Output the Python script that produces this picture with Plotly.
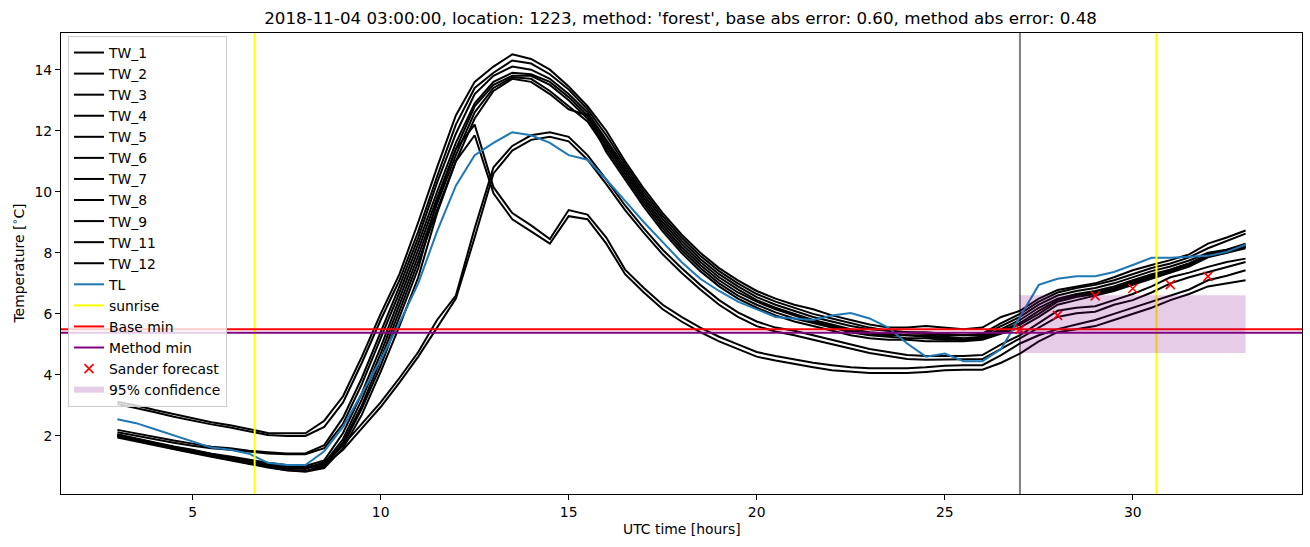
import plotly.graph_objects as go

# ---------------- data ----------------
HOURS = [3.0, 3.5, 4.0, 4.5, 5.0, 5.5, 6.0, 6.5, 7.0, 7.5,
         8.0, 8.5, 9.0, 9.5, 10.0, 10.5, 11.0, 11.5, 12.0, 12.5,
         13.0, 13.5, 14.0, 14.5, 15.0, 15.5, 16.0, 16.5, 17.0, 17.5,
         18.0, 18.5, 19.0, 19.5, 20.0, 20.5, 21.0, 21.5, 22.0, 22.5,
         23.0, 23.5, 24.0, 24.5, 25.0, 25.5, 26.0, 26.5, 27.0, 27.5,
         28.0, 28.5, 29.0, 29.5, 30.0, 30.5, 31.0, 31.5, 32.0, 32.5,
         33.0]

TW_1 = [3.12, 3.00, 2.85, 2.72, 2.60, 2.45, 2.35, 2.22, 2.10, 2.09,
        2.09, 2.50, 3.30, 4.60, 6.00, 7.30, 9.00, 10.80, 12.50, 13.60,
        14.10, 14.50, 14.35, 14.00, 13.45, 12.80, 12.00, 11.00, 10.10, 9.30,
        8.60, 8.00, 7.50, 7.10, 6.75, 6.50, 6.30, 6.15, 5.95, 5.80,
        5.65, 5.55, 5.55, 5.60, 5.55, 5.50, 5.55, 5.90, 6.10, 6.50,
        6.78, 6.90, 7.00, 7.20, 7.43, 7.60, 7.76, 7.95, 8.30, 8.50,
        8.73]
TW_2 = [2.20, 2.08, 1.95, 1.85, 1.75, 1.65, 1.60, 1.52, 1.47, 1.43,
        1.43, 1.70, 2.60, 3.90, 5.40, 6.90, 8.50, 10.30, 11.90, 13.20,
        13.80, 14.10, 14.00, 13.70, 13.20, 12.60, 11.70, 10.80, 9.90, 9.10,
        8.40, 7.80, 7.30, 6.90, 6.55, 6.30, 6.10, 5.90, 5.75, 5.60,
        5.50, 5.45, 5.40, 5.40, 5.35, 5.30, 5.30, 5.60, 5.90, 6.30,
        6.60, 6.75, 6.85, 7.00, 7.20, 7.40, 7.55, 7.75, 8.00, 8.10,
        8.25]
TW_3 = [2.05, 1.90, 1.76, 1.64, 1.52, 1.40, 1.30, 1.18, 1.08, 1.00,
        0.95, 1.05, 1.70, 2.90, 4.30, 5.90, 7.50, 9.70, 11.40, 12.20,
        10.15, 9.30, 8.90, 8.45, 9.40, 9.25, 8.50, 7.45, 6.85, 6.30,
        5.90, 5.55, 5.25, 5.00, 4.75, 4.62, 4.50, 4.40, 4.32, 4.25,
        4.22, 4.22, 4.22, 4.25, 4.30, 4.32, 4.32, 4.65, 5.03, 5.30,
        5.50, 5.65, 5.80, 6.00, 6.20, 6.40, 6.60, 6.80, 7.10, 7.25,
        7.43]
TW_4 = [3.05, 2.92, 2.78, 2.63, 2.50, 2.38, 2.28, 2.15, 2.03, 2.00,
        2.00, 2.30, 3.10, 4.40, 5.80, 7.10, 8.70, 10.50, 12.20, 13.40,
        13.90, 14.30, 14.20, 13.85, 13.35, 12.70, 11.85, 10.90, 10.00, 9.20,
        8.50, 7.90, 7.40, 7.00, 6.65, 6.40, 6.20, 6.00, 5.85, 5.70,
        5.55, 5.45, 5.40, 5.35, 5.30, 5.30, 5.35, 5.70, 6.00, 6.40,
        6.70, 6.85, 6.95, 7.10, 7.30, 7.50, 7.65, 7.85, 8.15, 8.40,
        8.63]
TW_5 = [2.12, 2.00, 1.88, 1.78, 1.68, 1.60, 1.55, 1.48, 1.43, 1.40,
        1.40, 1.60, 2.40, 3.70, 5.20, 6.70, 8.30, 10.00, 11.60, 12.90,
        13.60, 13.90, 13.85, 13.60, 13.10, 12.50, 11.60, 10.70, 9.80, 9.00,
        8.30, 7.70, 7.20, 6.80, 6.45, 6.20, 6.00, 5.80, 5.65, 5.50,
        5.40, 5.35, 5.30, 5.30, 5.25, 5.20, 5.25, 5.50, 5.80, 6.20,
        6.50, 6.65, 6.75, 6.90, 7.10, 7.30, 7.45, 7.65, 7.90, 8.05,
        8.19]
TW_6 = [2.00, 1.86, 1.72, 1.60, 1.48, 1.36, 1.26, 1.14, 1.03, 0.95,
        0.92, 1.15, 1.70, 2.40, 3.10, 3.90, 4.75, 5.80, 6.60, 8.80,
        10.80, 11.50, 11.85, 11.95, 11.80, 11.20, 10.40, 9.55, 8.80, 8.10,
        7.50, 6.95, 6.45, 6.05, 5.75, 5.55, 5.45, 5.30, 5.15, 5.00,
        4.85, 4.75, 4.65, 4.62, 4.62, 4.62, 4.65, 5.00, 5.30, 5.70,
        6.10, 6.20, 6.25, 6.45, 6.65, 6.90, 7.20, 7.35, 7.54, 7.70,
        7.81]
TW_7 = [2.05, 1.92, 1.78, 1.66, 1.55, 1.42, 1.33, 1.22, 1.12, 1.05,
        1.02, 1.20, 2.10, 3.40, 4.90, 6.50, 8.10, 9.80, 11.40, 12.80,
        13.50, 13.80, 13.80, 13.50, 13.00, 12.40, 11.50, 10.60, 9.70, 8.90,
        8.20, 7.60, 7.10, 6.70, 6.40, 6.15, 5.95, 5.75, 5.60, 5.45,
        5.35, 5.30, 5.30, 5.25, 5.20, 5.15, 5.20, 5.45, 5.70, 6.10,
        6.45, 6.60, 6.70, 6.85, 7.05, 7.25, 7.45, 7.65, 7.95, 8.10,
        8.30]
TW_8 = [1.98, 1.84, 1.70, 1.58, 1.46, 1.33, 1.22, 1.10, 0.98, 0.88,
        0.83, 0.95, 1.60, 2.70, 4.10, 5.60, 7.20, 9.30, 11.00, 11.85,
        9.95, 9.10, 8.70, 8.30, 9.20, 9.10, 8.30, 7.30, 6.70, 6.15,
        5.75, 5.40, 5.10, 4.85, 4.60, 4.47, 4.35, 4.25, 4.15, 4.10,
        4.06, 4.06, 4.06, 4.10, 4.15, 4.17, 4.17, 4.40, 4.70, 5.10,
        5.40, 5.50, 5.60, 5.80, 6.00, 6.20, 6.45, 6.65, 6.90, 7.00,
        7.10]
TW_9 = [2.03, 1.90, 1.75, 1.63, 1.52, 1.40, 1.30, 1.18, 1.08, 1.00,
        0.98, 1.10, 1.90, 3.20, 4.70, 6.30, 7.90, 9.60, 11.20, 12.60,
        13.40, 13.75, 13.70, 13.30, 12.80, 12.30, 11.40, 10.50, 9.60, 8.80,
        8.10, 7.50, 7.00, 6.60, 6.30, 6.05, 5.85, 5.70, 5.55, 5.40,
        5.30, 5.25, 5.20, 5.20, 5.15, 5.15, 5.20, 5.40, 5.65, 6.00,
        6.40, 6.55, 6.65, 6.80, 7.00, 7.20, 7.40, 7.60, 7.90, 8.05,
        8.20]
TW_11 = [1.95, 1.82, 1.68, 1.56, 1.44, 1.32, 1.20, 1.08, 0.97, 0.88,
         0.85, 1.05, 1.55, 2.25, 2.95, 3.75, 4.60, 5.55, 6.50, 8.50,
         10.60, 11.35, 11.70, 11.80, 11.65, 11.05, 10.25, 9.40, 8.65, 7.95,
         7.35, 6.80, 6.30, 5.90, 5.60, 5.42, 5.30, 5.15, 5.00, 4.87,
         4.72, 4.62, 4.52, 4.50, 4.50, 4.50, 4.52, 4.85, 5.20, 5.55,
         5.90, 6.02, 6.07, 6.30, 6.45, 6.70, 7.00, 7.20, 7.37, 7.55,
         7.70]
TW_12 = [2.00, 1.87, 1.72, 1.60, 1.48, 1.35, 1.25, 1.12, 1.00, 0.90,
         0.85, 1.00, 1.80, 3.00, 4.50, 6.10, 7.70, 9.40, 11.00, 12.40,
         13.30, 13.70, 13.60, 13.20, 12.70, 12.50, 11.30, 10.40, 9.50, 8.70,
         8.00, 7.40, 6.90, 6.50, 6.20, 5.95, 5.75, 5.60, 5.45, 5.30,
         5.20, 5.15, 5.15, 5.10, 5.10, 5.10, 5.15, 5.35, 5.55, 5.90,
         6.30, 6.45, 6.60, 6.75, 6.95, 7.15, 7.35, 7.55, 7.85, 8.00,
         8.15]
TL = [2.55, 2.42, 2.22, 2.02, 1.82, 1.62, 1.55, 1.42, 1.12, 1.05,
      1.05, 1.50, 2.30, 3.40, 4.50, 5.70, 7.00, 8.70, 10.20, 11.20,
      11.60, 11.95, 11.85, 11.60, 11.20, 11.05, 10.40, 9.70, 9.00, 8.35,
      7.70, 7.15, 6.75, 6.40, 6.15, 5.90, 5.85, 5.80, 5.95, 6.03,
      5.85, 5.55, 5.03, 4.60, 4.70, 4.45, 4.45, 4.85, 5.90, 6.95,
      7.15, 7.23, 7.23, 7.37, 7.60, 7.84, 7.84, 7.86, 7.90, 8.03,
      8.27]

TW_NAMES = ["TW_1", "TW_2", "TW_3", "TW_4", "TW_5", "TW_6",
            "TW_7", "TW_8", "TW_9", "TW_11", "TW_12"]
TW_SERIES = [TW_1, TW_2, TW_3, TW_4, TW_5, TW_6, TW_7, TW_8, TW_9, TW_11, TW_12]

SUNRISE = [6.65, 30.63]
FORECAST_TIME = 27.0
BASE_MIN = 5.50
METHOD_MIN = 5.38
SANDER_X = [27, 28, 29, 30, 31, 32]
SANDER_Y = [5.49, 5.95, 6.59, 6.83, 6.96, 7.23]
CONF_X = [27.0, 33.0]
CONF_LOW = [4.72, 4.72]
CONF_HIGH = [6.61, 6.61]

X_TICKS = [5, 10, 15, 20, 25, 30]
Y_TICKS = [2, 4, 6, 8, 10, 12, 14]
X_RANGE = [1.5, 34.5]
Y_RANGE = [0.1, 15.2]

TITLE = ("2018-11-04 03:00:00, location: 1223, method: 'forest', "
         "base abs error: 0.60, method abs error: 0.48")
X_LABEL = "UTC time [hours]"
Y_LABEL = "Temperature [<sup>∘</sup>C]"

# ---------------- figure ----------------
FONT = "DejaVu Sans, Verdana, sans-serif"
W, H = 1310, 547
ML, MR, MT, MB = 61, 8, 33, 53
fig = go.Figure()

# forecast-time vertical line (no legend)
fig.add_trace(go.Scatter(x=[FORECAST_TIME, FORECAST_TIME], y=Y_RANGE, mode="lines",
                         line=dict(color="#808080", width=2), showlegend=False,
                         hoverinfo="skip"))

for name, vals in zip(TW_NAMES, TW_SERIES):
    fig.add_trace(go.Scatter(x=HOURS, y=vals, mode="lines", name=name,
                             line=dict(color="black", width=2)))

fig.add_trace(go.Scatter(x=HOURS, y=TL, mode="lines", name="TL",
                         line=dict(color="#1f77b4", width=2)))

for i, s in enumerate(SUNRISE):
    fig.add_trace(go.Scatter(x=[s, s], y=Y_RANGE, mode="lines", name="sunrise",
                             line=dict(color="yellow", width=2),
                             showlegend=(i == 0), legendgroup="sunrise"))

fig.add_trace(go.Scatter(x=X_RANGE, y=[BASE_MIN, BASE_MIN], mode="lines",
                         name="Base min", line=dict(color="red", width=2)))
fig.add_trace(go.Scatter(x=X_RANGE, y=[METHOD_MIN, METHOD_MIN], mode="lines",
                         name="Method min", line=dict(color="purple", width=2)))

fig.add_trace(go.Scatter(x=SANDER_X, y=SANDER_Y, mode="markers", name="Sander forecast",
                         marker=dict(symbol="x-thin", size=9, color="red",
                                     line=dict(color="red", width=1.6))))

fig.add_trace(go.Scatter(x=CONF_X, y=CONF_LOW, mode="lines", line=dict(width=0),
                         showlegend=False, hoverinfo="skip", legendgroup="conf"))
fig.add_trace(go.Scatter(x=CONF_X, y=CONF_HIGH, mode="none", fill="tonexty",
                         fillcolor="rgba(128,0,128,0.2)", name="95% confidence",
                         legendgroup="conf"))

axis_common = dict(showline=True, linecolor="black", linewidth=1, mirror=True,
                   ticks="outside", ticklen=5, tickwidth=1, tickcolor="black",
                   showgrid=False, zeroline=False, automargin=False,
                   tickfont=dict(family=FONT, size=13.9, color="black"))

plot_w = W - ML - MR
plot_h = H - MT - MB

fig.update_layout(
    width=W, height=H,
    margin=dict(l=ML, r=MR, t=MT, b=MB, autoexpand=False),
    paper_bgcolor="white", plot_bgcolor="white",
    font=dict(family=FONT, size=13.9, color="black"),
    title=dict(text=TITLE, x=0.5195, xanchor="center", y=0.966, yanchor="middle",
               font=dict(family=FONT, size=16.7, color="black")),
    xaxis=dict(range=X_RANGE, tickvals=X_TICKS, **axis_common),
    yaxis=dict(range=Y_RANGE, tickvals=Y_TICKS, **axis_common),
    legend=dict(x=7 / plot_w, y=1 - 3 / plot_h, xanchor="left", yanchor="top",
                bgcolor="rgba(255,255,255,0.8)", bordercolor="#cccccc", borderwidth=1,
                font=dict(family=FONT, size=13.9, color="black"),
                tracegroupgap=0),
    showlegend=True,
    hovermode=False,
    annotations=[
        dict(text=X_LABEL, xref="paper", yref="paper", x=0.5,
             y=-(529 - (H - MB)) / plot_h, xanchor="center", yanchor="middle",
             showarrow=False, font=dict(family=FONT, size=13.9, color="black")),
        dict(text=Y_LABEL, xref="paper", yref="paper", x=-(ML - 18) / plot_w,
             y=0.5, xanchor="center", yanchor="middle", textangle=-90,
             showarrow=False, font=dict(family=FONT, size=13.9, color="black")),
    ],
)

fig.write_html("out.html",
               config={"displayModeBar": False},
               post_script="document.body.style.margin='0px';"
                           "document.body.style.padding='0px';")
